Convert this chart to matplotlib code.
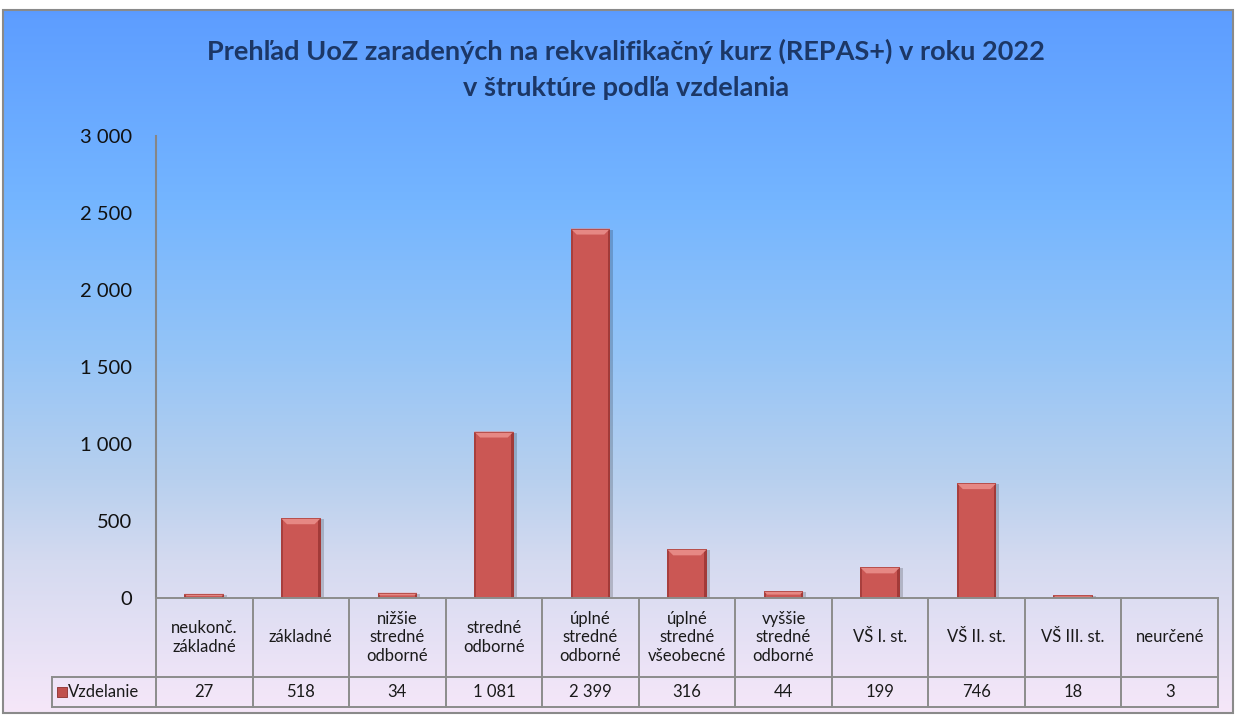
import numpy as np
import matplotlib
matplotlib.use("Agg")
import matplotlib.pyplot as plt
from matplotlib.patches import Rectangle, Polygon
import matplotlib.transforms as mtransforms

categories = ["neukonč.\nzákladné", "základné", "nižšie\nstredné\nodborné",
              "stredné\nodborné", "úplné\nstredné\nodborné", "úplné\nstredné\nvšeobecné",
              "vyššie\nstredné\nodborné", "VŠ I. st.", "VŠ II. st.", "VŠ III. st.", "neurčené"]
values = [27, 518, 34, 1081, 2399, 316, 44, 199, 746, 18, 3]
series_name = "Vzdelanie"
yticks = [0, 500, 1000, 1500, 2000, 2500, 3000]
title_lines = ["Prehľad UoZ zaradených na rekvalifikačný kurz (REPAS+) v roku 2022",
               "v štruktúre podľa vzdelania"]

def fmt(v):
    return f"{v:,}".replace(",", " ")

plt.rcParams['font.family'] = ['Lato', 'DejaVu Sans']

W, H = 1236, 715
fig = plt.figure(figsize=(W / 100, H / 100), dpi=100)
fig.patch.set_facecolor("white")

# background gradient
bg = fig.add_axes([0, 0, 1, 1])
bg.set_axis_off()
bg.set_xlim(0, W)
bg.set_ylim(H, 0)
stop_y = [10, 20, 200, 350, 480, 560, 713]
stop_c = np.array([[90, 154, 255], [94, 158, 255], [116, 181, 255], [148, 196, 247],
                   [184, 208, 238], [212, 218, 240], [246, 231, 249]]) / 255.0
ys = np.arange(10, 714)
grad = np.stack([np.interp(ys, stop_y, stop_c[:, k]) for k in range(3)], axis=-1)[:, None, :]
bg.imshow(grad, extent=[3, 1233, 713, 10], aspect="auto", interpolation="bilinear", zorder=0)
bg.add_patch(Rectangle((3, 10), 1230, 703, fill=False, edgecolor="#8a8a8a", lw=1.5, zorder=1))

for k, line in enumerate(title_lines):
    fig.text(626 / W, 1 - (51 + 37 * k) / H, line, ha="center", va="center",
             fontsize=19.5, fontweight="bold", color="#1c3766")

# main axes
x0p, x1p, y0p, y3p = 156, 1218, 598, 136
ax = fig.add_axes([x0p / W, (H - y0p) / H, (x1p - x0p) / W, (y0p - y3p) / H])
ax.patch.set_alpha(0)
n = len(categories)
ax.set_xlim(-0.5, n - 0.5)
ax.set_ylim(0, 3000)
for s in ["top", "right", "bottom"]:
    ax.spines[s].set_visible(False)
ax.spines["left"].set_color("#868686")
ax.spines["left"].set_linewidth(1.5)
ax.set_xticks([])
ax.set_yticks(yticks)
ax.set_yticklabels([fmt(v) for v in yticks], fontsize=14.5, color="#111111")
ax.tick_params(axis="y", length=0, pad=17)

pxx = n / (x1p - x0p)          # data x per pixel
pxy = 3000 / (y0p - y3p)       # data y per pixel
bw = 0.41
bars = ax.bar(range(n), values, width=bw, color="#cb5754", zorder=3, linewidth=0)
for b in bars:
    bx, bh, bwid = b.get_x(), b.get_height(), b.get_width()
    # shadow
    ax.add_patch(Rectangle((bx + 3 * pxx, -1 * pxy), bwid, bh, color="black", alpha=0.18, lw=0, zorder=2))
    # dark side edges
    ax.add_patch(Rectangle((bx, 0), 2 * pxx, bh, color="#a83f3d", lw=0, zorder=4))
    ax.add_patch(Rectangle((bx + bwid - 2.5 * pxx, 0), 2.5 * pxx, bh, color="#a23a38", lw=0, zorder=4))
    # top bevel
    bev = min(6, bh / pxy / 2)
    bvx = 6 * pxx if bev >= 6 else bev * pxx
    ax.add_patch(Polygon([(bx, bh), (bx + bwid, bh), (bx + bwid - bvx, bh - bev * pxy),
                          (bx + bvx, bh - bev * pxy)], closed=True, color="#e68884", lw=0, zorder=5))
    ax.add_patch(Rectangle((bx, bh - 1 * pxy), bwid, 1 * pxy, color="#b8504d", lw=0, zorder=6))

# data table
tr = mtransforms.blended_transform_factory(ax.transData, ax.transAxes)
hy = -(677 - 598) / (y0p - y3p)
vy = -(707 - 598) / (y0p - y3p)
leg_left = -0.5 - (156 - 52) * pxx
lc, lw = "#8c8c8c", 1.4
ax.plot([-0.5, n - 0.5], [0, 0], color=lc, lw=lw, transform=tr, clip_on=False, zorder=7)
ax.plot([leg_left, n - 0.5], [hy, hy], color=lc, lw=lw, transform=tr, clip_on=False, zorder=7)
ax.plot([leg_left, n - 0.5], [vy, vy], color=lc, lw=lw, transform=tr, clip_on=False, zorder=7)
for k in range(n + 1):
    ax.plot([k - 0.5, k - 0.5], [0, vy], color=lc, lw=lw, transform=tr, clip_on=False, zorder=7)
ax.plot([leg_left, leg_left], [hy, vy], color=lc, lw=lw, transform=tr, clip_on=False, zorder=7)
for i, (c, v) in enumerate(zip(categories, values)):
    ax.text(i, hy / 2, c, ha="center", va="center", fontsize=12, color="#1a1a1a",
            linespacing=1.22, transform=tr, clip_on=False)
    ax.text(i, (hy + vy) / 2, fmt(v), ha="center", va="center", fontsize=12,
            color="#1a1a1a", transform=tr, clip_on=False)
ax.scatter([leg_left + 10 * pxx], [(hy + vy) / 2], marker="s", s=45, color="#c0504d",
           edgecolors="#8b2e2c", linewidths=0.6, transform=tr, clip_on=False, zorder=8)
ax.text(leg_left + 16 * pxx, (hy + vy) / 2, series_name, ha="left", va="center",
        fontsize=12, color="#1a1a1a", transform=tr, clip_on=False)

fig.savefig("out.png", dpi=100)
